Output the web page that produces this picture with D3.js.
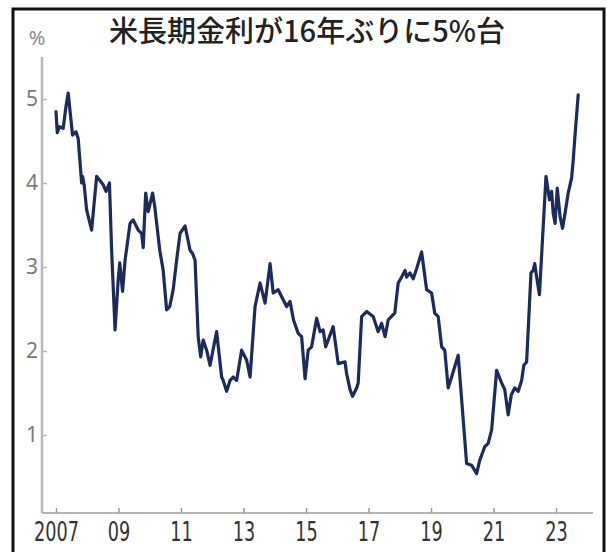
<!DOCTYPE html>
<html>
<head>
<meta charset="utf-8">
<script src="https://cdn.jsdelivr.net/npm/d3@7"></script>
<style>
  html, body { margin: 0; padding: 0; background: #fff; }
  svg { display: block; }
</style>
</head>
<body>
<svg id="chart" width="607" height="552"></svg>
<script>
// US 10-year Treasury yield (%), sampled by decimal year
const years = [
  2007.00, 2007.04, 2007.11, 2007.23, 2007.32, 2007.39, 2007.53, 2007.64, 2007.71, 2007.82,
  2007.85, 2007.90, 2007.98, 2008.14, 2008.30, 2008.51, 2008.60, 2008.71, 2008.78, 2008.89,
  2008.99, 2009.04, 2009.13, 2009.21, 2009.37, 2009.47, 2009.63, 2009.74, 2009.79, 2009.87,
  2009.95, 2010.09, 2010.16, 2010.32, 2010.43, 2010.54, 2010.64, 2010.75, 2010.86, 2010.97,
  2011.13, 2011.29, 2011.37, 2011.45, 2011.55, 2011.63, 2011.71, 2011.82, 2011.93, 2012.14,
  2012.30, 2012.35, 2012.46, 2012.57, 2012.67, 2012.78, 2012.94, 2013.10, 2013.21, 2013.37,
  2013.53, 2013.69, 2013.85, 2013.95, 2014.11, 2014.27, 2014.38, 2014.49, 2014.60, 2014.75,
  2014.86, 2014.97, 2015.07, 2015.18, 2015.34, 2015.45, 2015.55, 2015.63, 2015.87, 2016.03,
  2016.25, 2016.30, 2016.41, 2016.49, 2016.62, 2016.67, 2016.78, 2016.94, 2017.15, 2017.31,
  2017.42, 2017.53, 2017.63, 2017.84, 2017.95, 2018.06, 2018.17, 2018.22, 2018.33, 2018.43,
  2018.54, 2018.70, 2018.86, 2019.02, 2019.12, 2019.23, 2019.34, 2019.44, 2019.55, 2019.66,
  2019.87, 2020.14, 2020.30, 2020.46, 2020.56, 2020.72, 2020.83, 2020.94, 2021.10, 2021.26,
  2021.36, 2021.47, 2021.57, 2021.68, 2021.79, 2021.90, 2021.97, 2022.06, 2022.20, 2022.27,
  2022.32, 2022.38, 2022.47, 2022.68, 2022.79, 2022.86, 2022.91, 2022.97, 2023.04, 2023.13,
  2023.21, 2023.29, 2023.39, 2023.50, 2023.55, 2023.63, 2023.71
];
const yields = [
  4.85, 4.60, 4.67, 4.65, 4.91, 5.07, 4.57, 4.61, 4.53, 4.00,
  4.08, 3.98, 3.68, 3.44, 4.08, 3.98, 3.90, 4.00, 3.20, 2.25,
  2.85, 3.05, 2.71, 3.08, 3.52, 3.56, 3.44, 3.40, 3.23, 3.88,
  3.66, 3.88, 3.72, 3.20, 2.96, 2.49, 2.53, 2.73, 3.08, 3.40,
  3.49, 3.20, 3.16, 3.08, 2.17, 1.93, 2.13, 2.01, 1.83, 2.23,
  1.69, 1.65, 1.52, 1.65, 1.69, 1.65, 2.01, 1.89, 1.69, 2.53,
  2.81, 2.57, 3.04, 2.69, 2.73, 2.61, 2.53, 2.59, 2.37, 2.21,
  2.17, 1.67, 2.01, 2.05, 2.39, 2.23, 2.25, 2.05, 2.29, 1.85,
  1.87, 1.73, 1.54, 1.46, 1.56, 1.62, 2.41, 2.47, 2.41, 2.23,
  2.33, 2.17, 2.37, 2.45, 2.81, 2.88, 2.96, 2.88, 2.93, 2.86,
  2.98, 3.18, 2.73, 2.69, 2.45, 2.41, 2.05, 2.01, 1.56, 1.69,
  1.95, 0.66, 0.64, 0.54, 0.70, 0.86, 0.90, 1.06, 1.77, 1.62,
  1.54, 1.24, 1.48, 1.56, 1.52, 1.65, 1.83, 1.87, 2.93, 2.96,
  3.04, 2.88, 2.67, 4.08, 3.80, 3.90, 3.64, 3.52, 3.94, 3.60,
  3.46, 3.64, 3.88, 4.06, 4.27, 4.67, 5.05
];
const xTickYears = [2007, 2009, 2011, 2013, 2015, 2017, 2019, 2021, 2023];
const xTickLabels = ["2007", "09", "11", "13", "15", "17", "19", "21", "23"];
const yTickValues = [1, 2, 3, 4, 5];
const titleText = "米長期金利が16年ぶりに5%台";
const unitText = "%";

const svg = d3.select("#chart");

// outer frame
svg.append("rect")
  .attr("x", 13).attr("y", 9)
  .attr("width", 591).attr("height", 560)
  .attr("fill", "none")
  .attr("stroke", "#111")
  .attr("stroke-width", 3);

const axisLeftX = 42, axisRightX = 593, axisBottomY = 513, axisTopY = 57;

const x = d3.scaleLinear().domain([2007, 2023]).range([56, 556]);
const y = d3.scaleLinear().domain([1, 5]).range([435, 99]);

// title
svg.append("text")
  .attr("x", 307).attr("y", 42)
  .attr("text-anchor", "middle")
  .attr("font-family", "'Noto Sans CJK JP', 'Noto Sans', sans-serif")
  .attr("font-weight", 500)
  .attr("font-size", 29)
  .attr("fill", "#222")
  .text(titleText);

// unit label
svg.append("text")
  .attr("x", 37).attr("y", 45)
  .attr("text-anchor", "middle")
  .attr("font-family", "'Noto Sans', sans-serif")
  .attr("font-size", 20)
  .attr("fill", "#8a8a8a")
  .text(unitText);

// y axis
const yAxis = svg.append("g")
  .attr("transform", `translate(${axisLeftX},0)`)
  .call(d3.axisLeft(y).tickValues(yTickValues).tickFormat(d3.format("d"))
    .tickSizeInner(-5).tickSizeOuter(0).tickPadding(4));
yAxis.select(".domain").remove();
yAxis.selectAll(".tick line").attr("stroke", "#b5b5b5").attr("stroke-width", 1.5);
yAxis.selectAll(".tick text")
  .attr("font-family", "'Noto Sans', sans-serif")
  .attr("font-size", 21)
  .attr("fill", "#7a7a7a");
svg.append("line")
  .attr("x1", axisLeftX).attr("x2", axisLeftX)
  .attr("y1", axisTopY).attr("y2", axisBottomY)
  .attr("stroke", "#b8b8b8").attr("stroke-width", 2.5);

// x axis
const xAxis = svg.append("g")
  .attr("transform", `translate(0,${axisBottomY})`)
  .call(d3.axisBottom(x).tickValues(xTickYears)
    .tickFormat((d, i) => xTickLabels[i])
    .tickSizeInner(-5).tickSizeOuter(0).tickPadding(10));
xAxis.select(".domain").remove();
xAxis.selectAll(".tick line").attr("stroke", "#999").attr("stroke-width", 1.5);
xAxis.selectAll(".tick text")
  .attr("font-family", "'DejaVu Sans', sans-serif")
  .attr("font-size", 26)
  .attr("fill", "#333")
  .attr("transform", "scale(0.68,1)");
svg.append("line")
  .attr("x1", axisLeftX).attr("x2", axisRightX)
  .attr("y1", axisBottomY).attr("y2", axisBottomY)
  .attr("stroke", "#9a9a9a").attr("stroke-width", 1.5);

// yield line
const line = d3.line()
  .x((d, i) => x(years[i]))
  .y(d => y(d));

svg.append("path")
  .datum(yields)
  .attr("d", line)
  .attr("fill", "none")
  .attr("stroke", "#1c2a5c")
  .attr("stroke-width", 3.2)
  .attr("stroke-linejoin", "round")
  .attr("stroke-linecap", "round");
</script>
</body>
</html>
